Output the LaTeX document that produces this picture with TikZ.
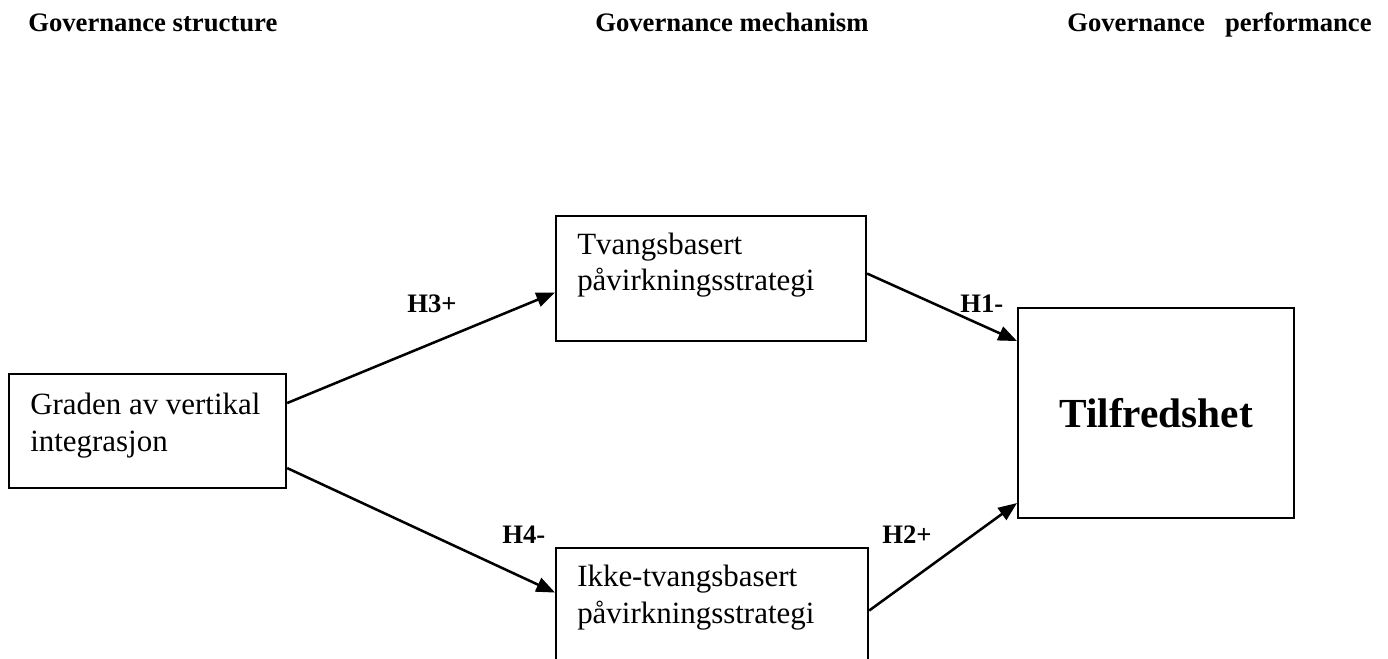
\documentclass[tikz,border=0pt]{standalone}
\usepackage{fontspec}
\setmainfont{Liberation Serif}
\usetikzlibrary{calc,arrows.meta}
\newcommand{\px}{0.75pt}

\begin{document}
\begin{tikzpicture}[x=\px,y=-\px,
  head/.style={font=\fontsize{20}{24}\selectfont\bfseries,anchor=base west,inner sep=0pt},
  box/.style={draw=black,line width=1.6pt,anchor=north west,inner sep=0pt},
  boxtext/.style={font=\fontsize{23.2}{27.5}\selectfont,align=left,anchor=base west,inner sep=0pt},
  link/.style={draw=black,line width=1.9pt,-{Triangle[length=14pt,width=11pt]}}]
 \clip (0,0) rectangle (1388,659);
 % column heads
 \node[head] (hstruct) at (28,32) {Governance structure};
 \node[head] (hmech) at (595,32) {Governance mechanism};
 \node[head] (hperf) at (1067,32) {Governance~~~performance};
 % boxes
 \node[box,minimum width=277*\px,minimum height=114*\px] (gl) at (8,373) {};
 \node[box,minimum width=310*\px,minimum height=125*\px] (tv) at (555,215) {};
 \node[box,minimum width=312*\px,minimum height=125*\px] (ik) at (555,547) {};
 \node[box,minimum width=276*\px,minimum height=210*\px,
       font=\fontsize{31}{36}\selectfont\bfseries] (tf) at (1017,307) {Tilfredshet};
 \node[boxtext] (gltext) at ($(gl.north west)+(22,78)$) {Graden av vertikal\\integrasjon};
 \node[boxtext] (tvtext) at ($(tv.north west)+(22,76)$) {Tvangsbasert\\påvirkningsstrategi};
 \node[boxtext] (iktext) at ($(ik.north west)+(22,76)$) {Ikke-tvangsbasert\\påvirkningsstrategi};
 % hypotheses
 \draw[link] ($(gl.east)+(0,-28)$) -- ($(tv.west)+(0,14)$);
 \draw[link] ($(gl.east)+(0,37)$) -- ($(ik.west)+(0,-18)$);
 \draw[link] ($(tv.east)+(0,-5)$) -- ($(tf.west)+(0,-72)$);
 \draw[link] (ik.east) -- ($(tf.west)+(0,90)$);
 \node[head] (h3) at (407,312) {H3+};
 \node[head] (h4) at (502,543) {H4-};
 \node[head] (h1) at (960,312) {H1-};
 \node[head] (h2) at (882,543) {H2+};
\end{tikzpicture}
\end{document}
